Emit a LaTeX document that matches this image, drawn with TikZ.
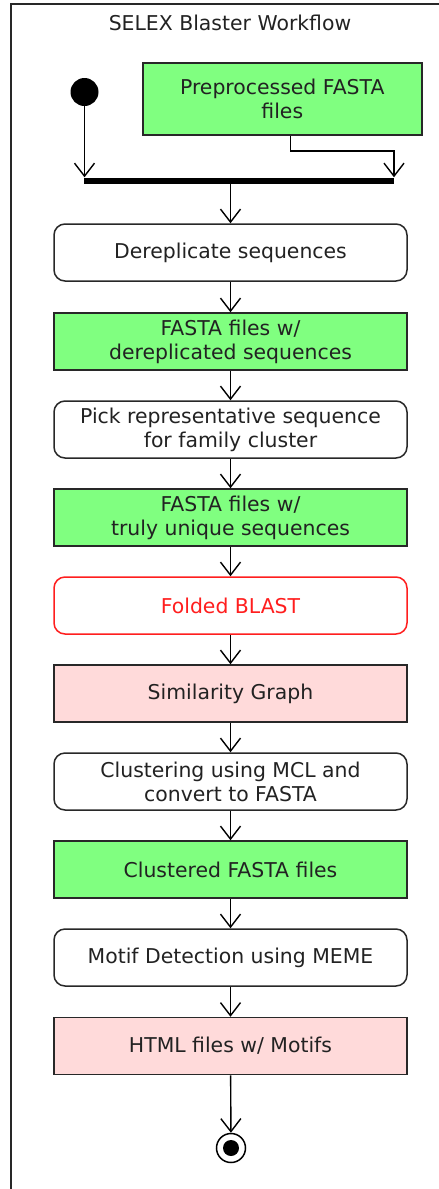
\documentclass[tikz,border=0pt]{standalone}
\usepackage{fontspec}
\setmainfont{DejaVu Sans}
\usetikzlibrary{arrows.meta}
\definecolor{fgreen}{RGB}{128,255,128}
\definecolor{fpink}{RGB}{255,218,218}
\definecolor{fred}{RGB}{255,30,30}
\definecolor{ink}{RGB}{34,34,34}
\definecolor{edge}{RGB}{40,40,40}
\tikzset{
  base/.style={draw=edge, line width=1.5pt, minimum width=353pt, minimum height=57pt, inner sep=0pt, align=center, text=ink, font=\fontsize{20.4}{24}\selectfont},
  action/.style={base, rounded corners=11pt, fill=white},
  greenobj/.style={base, fill=fgreen},
  pinkobj/.style={base, fill=fpink},
  redaction/.style={base, rounded corners=11pt, draw=fred, text=fred, fill=white},
  arr/.style={draw=black, line width=1.4pt, -{Straight Barb[length=13pt,width=20pt,line width=1.4pt]}},
}
\begin{document}
\begin{tikzpicture}[x=1pt,y=-1pt]
\useasboundingbox (0,0) rectangle (439,1189);
\clip (0,0) rectangle (439,1189);
\draw[edge, line width=1.5pt] (11,1200) -- (11,4) -- (450,4);
\node[text=ink, font=\fontsize{20.4}{24}\selectfont] (title) at (230,23) {SELEX Blaster Workflow};

\node[circle, fill=black, minimum size=28pt, inner sep=0pt] (start) at (84.5,92) {};
\node[greenobj, minimum width=279pt, minimum height=72pt] (pre) at (282.3,99) {Preprocessed FASTA\\files};
\node[fill=black, minimum width=310pt, minimum height=6pt, inner sep=0pt] (bar) at (239,180.5) {};

\node[action] (d1) at (230.5,252.5) {Dereplicate sequences};
\node[greenobj] (d2) at (230.5,341.5) {FASTA files w/\\dereplicated sequences};
\node[action] (d3) at (230.5,429.5) {Pick representative sequence\\for family cluster};
\node[greenobj] (d4) at (230.5,517.5) {FASTA files w/\\truly unique sequences};
\node[redaction] (d5) at (230.5,605.5) {Folded BLAST};
\node[pinkobj] (d6) at (230.5,693.5) {Similarity Graph};
\node[action] (d7) at (230.5,781.5) {Clustering using MCL and\\convert to FASTA};
\node[greenobj] (d8) at (230.5,869.5) {Clustered FASTA files};
\node[action] (d9) at (230.5,957.5) {Motif Detection using MEME};
\node[pinkobj] (d10) at (230.5,1046) {HTML files w/ Motifs};

\node[circle, draw=black, line width=1.5pt, fill=white, minimum size=29pt, inner sep=0pt] (end) at (231,1148) {};
\node[circle, fill=black, minimum size=16pt, inner sep=0pt] (endin) at (end) {};

\coordinate (bj) at (394,151);
\draw[arr] (start.south) -- (start |- bar.north);
\draw[arr, rounded corners=0pt] ([xshift=8pt]pre.south) |- (bj) -- (bj |- bar.north);
\draw[arr] (bar.south -| d1.north) -- (d1.north);
\draw[arr] (d1) -- (d2);
\draw[arr] (d2) -- (d3);
\draw[arr] (d3) -- (d4);
\draw[arr] (d4) -- (d5);
\draw[arr] (d5) -- (d6);
\draw[arr] (d6) -- (d7);
\draw[arr] (d7) -- (d8);
\draw[arr] (d8) -- (d9);
\draw[arr] (d9) -- (d10);
\draw[arr] (d10) -- (end);
\end{tikzpicture}
\end{document}
